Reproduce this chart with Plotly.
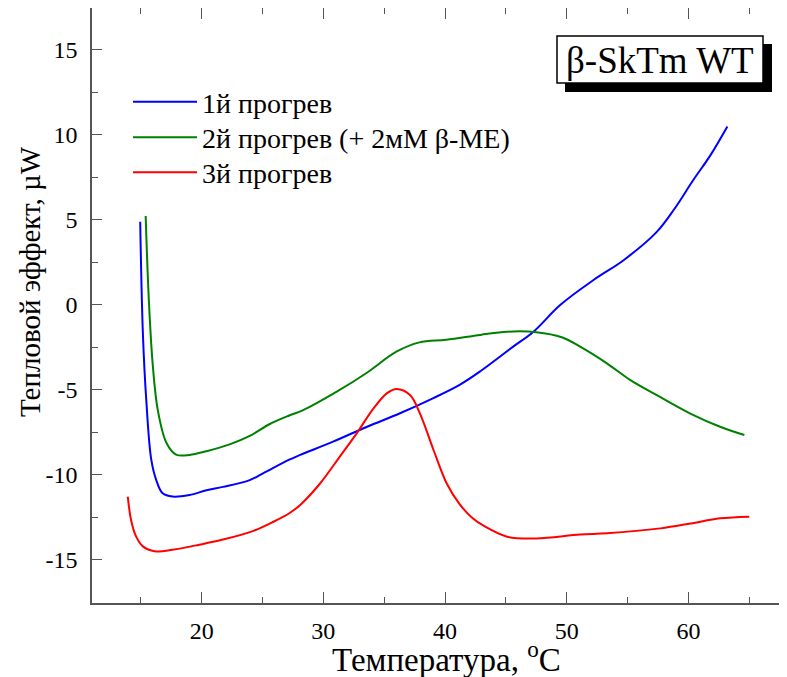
import plotly.graph_objects as go

# ---- data ----
t1 = [14.95, 15.17, 15.45, 15.86, 16.27, 16.8, 17.6, 19.0, 20.4, 21.75, 23.95, 25.05, 27.2, 28.1,
      30.8, 33.6, 36.3, 39.0, 41.2, 42.9, 45.6, 47.27, 49.46, 52.2, 54.7, 57.4, 58.8, 60.4, 61.8, 63.2]
q1 = [4.9, -1.65, -5.6, -9.1, -10.3, -11.08, -11.27, -11.18, -10.9, -10.7, -10.3, -9.9, -9.1, -8.82,
      -8.04, -7.16, -6.37, -5.49, -4.7, -3.9, -2.45, -1.57, 0.0, 1.47, 2.65, 4.3, 5.6, 7.35, 8.8, 10.5]

t2 = [15.4, 15.66, 15.99, 16.4, 17.1, 17.9, 19.0, 20.4, 22.3, 23.95, 25.6, 27.2, 28.3, 31.1, 33.55,
      36.0, 37.9, 40.1, 42.9, 45.1, 47.5, 49.6, 51.1, 53.3, 55.2, 57.4, 60.2, 62.6, 64.6]
q2 = [5.24, 0.3, -3.6, -6.2, -8.1, -8.8, -8.82, -8.6, -8.2, -7.7, -7.0, -6.5, -6.2, -5.1, -4.0,
      -2.75, -2.2, -2.05, -1.76, -1.57, -1.6, -1.9, -2.45, -3.43, -4.4, -5.3, -6.4, -7.16, -7.65]

t3 = [13.93, 14.2, 14.6, 15.17, 16.27, 17.6, 19.8, 21.75, 24.2, 25.9, 27.2, 28.1, 29.73, 31.37,
      32.74, 34.11, 35.21, 36.03, 37.12, 37.95, 39.04, 40.14, 41.18, 42.2, 43.2, 45.1, 47.5, 51.1,
      53.3, 57.7, 60.2, 62.6, 65.0]
q3 = [-11.27, -12.65, -13.6, -14.2, -14.5, -14.4, -14.1, -13.8, -13.3, -12.75, -12.25, -11.76, -10.5,
      -8.9, -7.55, -6.1, -5.2, -4.94, -5.3, -6.4, -8.5, -10.5, -11.7, -12.5, -13.0, -13.63, -13.73,
      -13.5, -13.43, -13.14, -12.85, -12.55, -12.45]

names = ["1й прогрев", "2й прогрев (+ 2мМ β-ME)", "3й прогрев"]
colors = ["#0000ff", "#008000", "#ff0000"]
x_ticks = [20, 30, 40, 50, 60]
y_ticks = [-15, -10, -5, 0, 5, 10, 15]
y_ticklabels = ["-15", "-10", "-5", "0", "5", "10", "15"]

FONT = '"Liberation Serif", "Times New Roman", Times, serif'

# The page body adds an 8 px offset; figure is sized so that page coords match the reference.
OFF = 8
W, H = 787 - OFF, 677 - OFF
L, B, T = 84, 74, 0
PW = W - L
PH = H - B - T


def px(x):  # page x -> paper
    return (x - OFF - L) / PW


def py(y):  # page y -> paper
    return (H - B - (y - OFF)) / PH


fig = go.Figure()
legend_ids = ["legend", "legend2", "legend3"]
for t, q, n, c, lg in zip([t1, t2, t3], [q1, q2, q3], names, colors, legend_ids):
    fig.add_trace(go.Scatter(x=t, y=q, mode="lines", name=n, legend=lg,
                             line=dict(color=c, width=2, shape="spline", smoothing=1.0)))

axis_common = dict(showline=True, linecolor="#555555", linewidth=1.5, ticks="inside",
                   tickcolor="#555555", tickwidth=1.2, showgrid=False, zeroline=False,
                   tickfont=dict(family=FONT, size=24, color="black"))

legend_rows = [102, 137.5, 172.5]
legends = {}
for lg, row in zip(legend_ids, legend_rows):
    legends[lg] = dict(x=px(128), y=py(row), xanchor="left", yanchor="middle",
                       bgcolor="rgba(0,0,0,0)", borderwidth=0, itemwidth=64,
                       font=dict(family=FONT, size=28, color="black"))

fig.update_layout(
    width=W, height=H,
    margin=dict(l=L, r=0, t=T, b=B, autoexpand=False),
    paper_bgcolor="white", plot_bgcolor="white",
    font=dict(family=FONT, color="black"),
    xaxis=dict(range=[10.99, 68.1], tickvals=x_ticks, ticklen=11, mirror="allticks",
               minor=dict(dtick=5, tick0=0, ticks="inside", ticklen=6, tickcolor="#555555"),
               ticklabelstandoff=5, **axis_common),
    yaxis=dict(range=[-17.53, 17.47], tickvals=y_ticks, ticktext=y_ticklabels, ticklen=10,
               mirror=False,
               minor=dict(dtick=2.5, tick0=0, ticks="inside", ticklen=6, tickcolor="#555555"),
               ticklabelstandoff=8, **axis_common),
    showlegend=True,
    **legends,
)

# title box with drop shadow
fig.add_shape(type="rect", xref="paper", yref="paper",
              x0=px(565), x1=px(772), y0=py(92), y1=py(44),
              fillcolor="black", line=dict(width=0))
fig.add_shape(type="rect", xref="paper", yref="paper",
              x0=px(557), x1=px(763), y0=py(83), y1=py(36),
              fillcolor="white", line=dict(color="black", width=1.5))
fig.add_annotation(text="β-SkTm WT", xref="paper", yref="paper", x=px(660), y=py(60),
                   xanchor="center", yanchor="middle", showarrow=False,
                   font=dict(family=FONT, size=37, color="black"))

# axis titles
fig.add_annotation(text="Температура, <sup>o</sup>C", xref="paper", yref="paper",
                   x=px(446), y=py(657), xanchor="center", yanchor="middle", showarrow=False,
                   font=dict(family=FONT, size=33, color="black"))
fig.add_annotation(text="Тепловой эффект, µW", xref="paper", yref="paper",
                   x=px(30), y=py(282), xanchor="center", yanchor="middle", showarrow=False,
                   textangle=-90, font=dict(family=FONT, size=29, color="black"))

fig.write_html("out.html")
